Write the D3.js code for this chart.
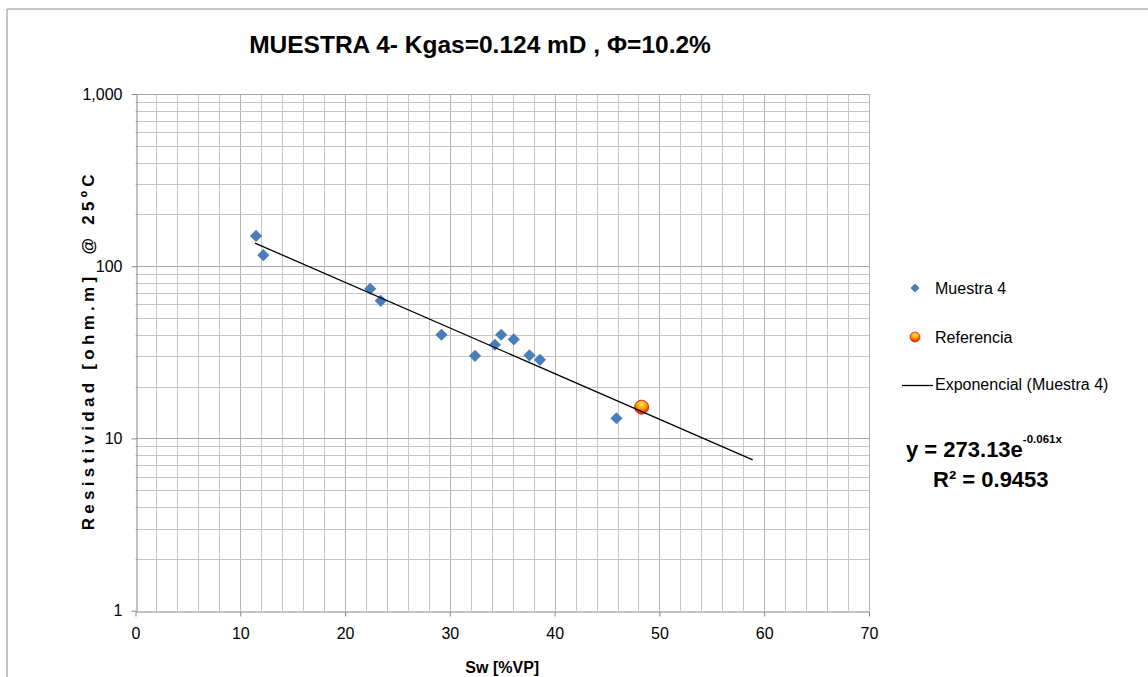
<!DOCTYPE html>
<html><head><meta charset="utf-8">
<script src="https://cdn.jsdelivr.net/npm/d3@7"></script>
<style>body{margin:0;background:#fff;} text{font-family:"Liberation Sans",Arial,sans-serif;fill:#000;}</style>
</head><body><svg id="c" width="1148" height="677"></svg>
<script>
// ---- data ----
const muestraSw  = [11.5, 12.2, 22.4, 23.4, 29.2, 32.4, 34.3, 34.9, 36.1, 37.6, 38.6, 45.9];
const muestraRes = [150, 116, 74, 63, 40, 30.2, 35, 40, 37.6, 30.4, 28.6, 13.1];
const referenciaSw  = [48.3];
const referenciaRes = [15.2];
const trendCoef  = [273.13, -0.061];   // y = a * e^(b x)
const trendRange = [11.4, 58.9];
const xTicks = [0, 10, 20, 30, 40, 50, 60, 70];
const yTicks = [1, 10, 100, 1000];
const yTickLabels = ["1", "10", "100", "1,000"];
const legendLabels = ["Muestra 4", "Referencia", "Exponencial (Muestra 4)"];
const titleText = "MUESTRA 4- Kgas=0.124 mD , \u03A6=10.2%";

// ---- layout ----
const svg = d3.select("#c");
const L = 135.5, R = 869, T = 94, B = 610.7;
const x = d3.scaleLinear().domain([0, 70]).range([L, R]);
const y = d3.scaleLog().domain([1, 1000]).range([B, T]);

// outer frame
svg.append("path").attr("d", "M7,677 V9 H1148").attr("fill", "none").attr("stroke", "#8c8c8c").attr("stroke-width", 1);

const defs = svg.append("defs");
const g1 = defs.append("radialGradient").attr("id", "refGrad").attr("cx", "50%").attr("cy", "30%").attr("r", "65%");
g1.append("stop").attr("offset", "0%").attr("stop-color", "#ffe45a");
g1.append("stop").attr("offset", "55%").attr("stop-color", "#ff9a00");
g1.append("stop").attr("offset", "100%").attr("stop-color", "#e02000");

// gridlines
const grid = svg.append("g");
const vMinor = d3.range(2, 71, 2);
grid.selectAll("line.v").data(vMinor).join("line")
  .attr("x1", d => Math.round(x(d)) + 0.5).attr("x2", d => Math.round(x(d)) + 0.5)
  .attr("y1", T).attr("y2", B)
  .attr("stroke", d => d % 10 === 0 ? "#b4b4b4" : "#c4c4c4").attr("stroke-width", 1);
const hLines = [];
[1, 10, 100].forEach(dec => { for (let k = 1; k <= 9; k++) hLines.push(dec * k); });
hLines.push(1000);
grid.selectAll("line.h").data(hLines.filter(d => d > 1)).join("line")
  .attr("x1", L).attr("x2", R)
  .attr("y1", d => Math.round(y(d)) + 0.5).attr("y2", d => Math.round(y(d)) + 0.5)
  .attr("stroke", d => yTicks.includes(d) ? "#a8a8a8" : "#c4c4c4").attr("stroke-width", 1);

// axes
const xAxis = svg.append("g").attr("transform", `translate(0,${Math.round(B) + 0.5})`)
  .call(d3.axisBottom(x).tickValues(xTicks).tickSize(5).tickSizeOuter(0).tickPadding(11));
const yAxis = svg.append("g").attr("transform", `translate(${Math.round(L) + 0.5},0)`)
  .call(d3.axisLeft(y).tickValues(yTicks).tickFormat((d, i) => yTickLabels[i]).tickSize(5).tickSizeOuter(0).tickPadding(9));
[xAxis, yAxis].forEach(a => {
  a.select(".domain").attr("stroke", "#868686");
  a.selectAll(".tick line").attr("stroke", "#868686");
  a.selectAll(".tick text").attr("font-size", 16).attr("font-family", '"Liberation Sans",Arial,sans-serif').attr("fill", "#000");
});

// series: Muestra 4 (diamonds)
const diamond = d3.symbol().type(d3.symbolSquare).size(74);
svg.append("g").selectAll("path").data(muestraSw.map((s, i) => [s, muestraRes[i]])).join("path")
  .attr("d", diamond)
  .attr("transform", d => `translate(${x(d[0])},${y(d[1])}) rotate(45)`)
  .attr("fill", "#4a7ebb");

// Referencia
svg.append("g").selectAll("circle").data(referenciaSw.map((s, i) => [s, referenciaRes[i]])).join("circle")
  .attr("cx", d => x(d[0])).attr("cy", d => y(d[1])).attr("r", 7)
  .attr("fill", "url(#refGrad)").attr("stroke", "#d2322d").attr("stroke-width", 1);

// trendline (exponential -> straight on log axis)
const trendPts = trendRange.map(s => [s, trendCoef[0] * Math.exp(trendCoef[1] * s)]);
svg.append("path").datum(trendPts)
  .attr("d", d3.line().x(d => x(d[0])).y(d => y(d[1])))
  .attr("fill", "none").attr("stroke", "#000").attr("stroke-width", 1.3);

// title
svg.append("text").attr("x", 480).attr("y", 53).attr("text-anchor", "middle")
  .attr("font-size", 24.5).attr("font-weight", "bold").text(titleText);

// axis titles
svg.append("text").attr("x", (L + R) / 2).attr("y", 673).attr("text-anchor", "middle")
  .attr("font-size", 16).attr("font-weight", "bold").text("Sw [%VP]");
svg.append("text").attr("transform", `translate(94,${(T + B) / 2}) rotate(-90)`).attr("text-anchor", "middle")
  .attr("font-size", 17).attr("font-weight", "bold").attr("xml:space", "preserve")
  .attr("textLength", 356).attr("lengthAdjust", "spacing")
  .style("white-space", "pre").text("Resistividad [ohm.m]  @ 25ºC");

// legend
const lg = svg.append("g");
lg.append("path").attr("d", d3.symbol().type(d3.symbolSquare).size(40)).attr("transform", "translate(915,288) rotate(45)").attr("fill", "#4a7ebb");
lg.append("circle").attr("cx", 915).attr("cy", 337).attr("r", 5).attr("fill", "url(#refGrad)").attr("stroke", "#d2322d").attr("stroke-width", 0.8);
lg.append("line").attr("x1", 902).attr("x2", 933).attr("y1", 385.5).attr("y2", 385.5).attr("stroke", "#000").attr("stroke-width", 1.3);
const legY = [294, 343, 390];
lg.selectAll("text").data(legendLabels).join("text")
  .attr("x", 935).attr("y", (d, i) => legY[i]).attr("font-size", 16).text(d => d);

// equation
const eq = svg.append("text").attr("x", 906).attr("y", 457).attr("font-size", 22).attr("font-weight", "bold");
eq.append("tspan").text("y = " + trendCoef[0].toFixed(2) + "e");
eq.append("tspan").attr("font-size", 11.5).attr("dy", -14).text(trendCoef[1].toFixed(3) + "x");
svg.append("text").attr("x", 933).attr("y", 487).attr("font-size", 22).attr("font-weight", "bold").text("R\u00B2 = 0.9453");
</script></body></html>
